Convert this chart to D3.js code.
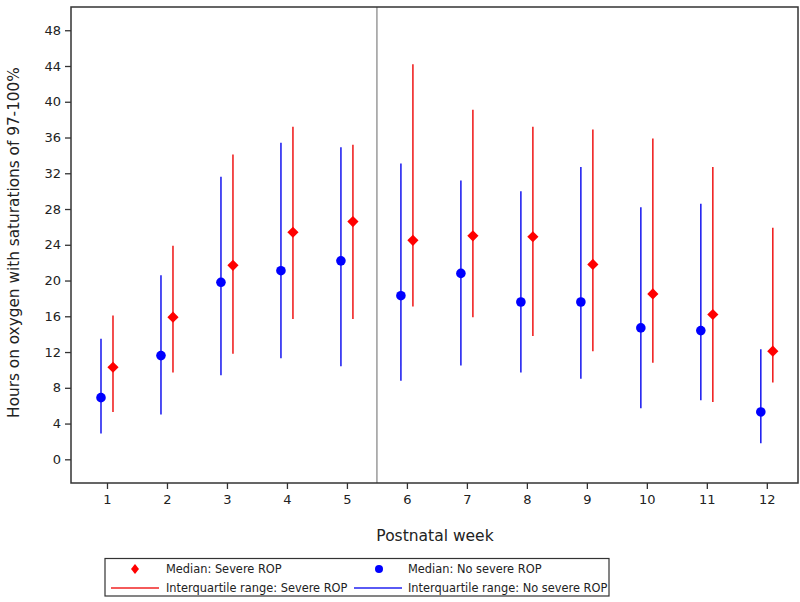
<!DOCTYPE html>
<html>
<head>
<meta charset="utf-8">
<script src="https://cdn.jsdelivr.net/npm/d3@7"></script>
<style>
  body { margin: 0; background: #fff; }
  text { font-family: "DejaVu Sans", sans-serif; fill: #222; }
</style>
</head>
<body>
<script>
// postnatal weeks
var weeks = [1, 2, 3, 4, 5, 6, 7, 8, 9, 10, 11, 12];

// severe ROP: median, lower and upper quartile
var sevMedian = [10.3, 15.9, 21.7, 25.4, 26.6, 24.5, 25.0, 24.9, 21.8, 18.5, 16.2, 12.1];
var sevLow    = [5.3, 9.7, 11.8, 15.7, 15.7, 17.1, 15.9, 13.8, 12.1, 10.8, 6.4, 8.6];
var sevHigh   = [16.1, 23.9, 34.1, 37.2, 35.2, 44.2, 39.1, 37.2, 36.9, 35.9, 32.7, 25.9];

// no severe ROP
var noMedian = [6.9, 11.6, 19.8, 21.1, 22.2, 18.3, 20.8, 17.6, 17.6, 14.7, 14.4, 5.3];
var noLow    = [2.9, 5.0, 9.4, 11.3, 10.4, 8.8, 10.5, 9.7, 9.0, 5.7, 6.6, 1.8];
var noHigh   = [13.5, 20.6, 31.6, 35.4, 34.9, 33.1, 31.2, 30.0, 32.7, 28.2, 28.6, 12.3];

var yTicks = d3.range(0, 49, 4);

var margins = {top: 7, left: 71};
var width = 727, height = 476;

var xScale = d3.scaleLinear().domain([0.4, 12.52]).range([0, width]);
var yScale = d3.scaleLinear().domain([-2.65, 50.6]).range([height, 0]);

var svg = d3.select('body').append('svg')
    .attr('width', 800)
    .attr('height', 602);

var g = svg.append('g')
    .attr('transform', `translate(${margins.left}, ${margins.top})`);

// reference line between week 5 and 6
g.append('line')
    .attr('x1', xScale(5.5)).attr('x2', xScale(5.5))
    .attr('y1', 0).attr('y2', height)
    .attr('stroke', '#9a9a9a')
    .attr('stroke-width', 1.5);

var off = 0.1;
var sev = weeks.map(function(w, i) { return {w: w, m: sevMedian[i], lo: sevLow[i], hi: sevHigh[i]}; });
var nos = weeks.map(function(w, i) { return {w: w, m: noMedian[i], lo: noLow[i], hi: noHigh[i]}; });

// interquartile ranges
g.selectAll('.iqr-no').data(nos).enter().append('line')
    .attr('x1', function(d) { return xScale(d.w - off); })
    .attr('x2', function(d) { return xScale(d.w - off); })
    .attr('y1', function(d) { return yScale(d.lo); })
    .attr('y2', function(d) { return yScale(d.hi); })
    .attr('stroke', '#2323f0')
    .attr('stroke-width', 1.6);

g.selectAll('.iqr-sev').data(sev).enter().append('line')
    .attr('x1', function(d) { return xScale(d.w + off); })
    .attr('x2', function(d) { return xScale(d.w + off); })
    .attr('y1', function(d) { return yScale(d.lo); })
    .attr('y2', function(d) { return yScale(d.hi); })
    .attr('stroke', '#f02323')
    .attr('stroke-width', 1.6);

// medians
g.selectAll('.med-no').data(nos).enter().append('circle')
    .attr('cx', function(d) { return xScale(d.w - off); })
    .attr('cy', function(d) { return yScale(d.m); })
    .attr('r', 4.8)
    .attr('fill', '#0000ff');

var diamond = 'M0,-5.6L5.6,0L0,5.6L-5.6,0Z';
g.selectAll('.med-sev').data(sev).enter().append('path')
    .attr('d', diamond)
    .attr('transform', function(d) { return `translate(${xScale(d.w + off)}, ${yScale(d.m)})`; })
    .attr('fill', '#ff0000');

// frame
g.append('rect')
    .attr('width', width).attr('height', height)
    .attr('fill', 'none')
    .attr('stroke', '#333')
    .attr('stroke-width', 1.5);

// axes
var yAxis = d3.axisLeft(yScale).tickValues(yTicks).tickSize(6).tickPadding(4);
var xAxis = d3.axisBottom(xScale).tickValues(weeks).tickSize(6).tickPadding(6);

var ya = g.append('g').call(yAxis);
var xa = g.append('g').attr('transform', `translate(0, ${height})`).call(xAxis);
[ya, xa].forEach(function(a) {
  a.select('.domain').remove();
  a.selectAll('line').attr('stroke', '#333').attr('stroke-width', 1.3);
  a.selectAll('text').style('font-size', '13px').style('font-family', '"DejaVu Sans", sans-serif').attr('fill', '#222');
});

// axis titles
svg.append('text')
    .attr('x', 435).attr('y', 541)
    .style('text-anchor', 'middle')
    .style('font-size', '15.5px')
    .text('Postnatal week');

svg.append('text')
    .attr('transform', 'translate(18.5, 242.5) rotate(-90)')
    .style('text-anchor', 'middle')
    .style('font-size', '15.3px')
    .text('Hours on oxygen with saturations of 97-100%');

// legend
var lg = svg.append('g');
lg.append('rect')
    .attr('x', 105).attr('y', 558.5)
    .attr('width', 504).attr('height', 37.5)
    .attr('fill', '#fff')
    .attr('stroke', '#333')
    .attr('stroke-width', 1.2);

var legendItems = [
  {x: 111, tx: 166, y: 569, type: 'diamond', color: '#ff0000', label: 'Median: Severe ROP'},
  {x: 354, tx: 408, y: 569, type: 'circle', color: '#0000ff', label: 'Median: No severe ROP'},
  {x: 111, tx: 166, y: 588, type: 'line', color: '#f02323', label: 'Interquartile range: Severe ROP'},
  {x: 354, tx: 408, y: 588, type: 'line', color: '#2323f0', label: 'Interquartile range: No severe ROP'}
];
legendItems.forEach(function(it) {
  if (it.type === 'diamond') {
    lg.append('path').attr('d', 'M0,-5L4,0L0,5L-4,0Z')
      .attr('transform', `translate(${it.x + 24}, ${it.y})`).attr('fill', it.color);
  } else if (it.type === 'circle') {
    lg.append('circle').attr('cx', it.x + 25).attr('cy', it.y).attr('r', 4).attr('fill', it.color);
  } else {
    lg.append('line').attr('x1', it.x).attr('x2', it.x + 48)
      .attr('y1', it.y).attr('y2', it.y)
      .attr('stroke', it.color).attr('stroke-width', 1.5);
  }
  lg.append('text')
    .attr('x', it.tx).attr('y', it.y)
    .attr('dy', '0.36em')
    .style('font-size', '11.4px')
    .text(it.label);
});
</script>
</body>
</html>
